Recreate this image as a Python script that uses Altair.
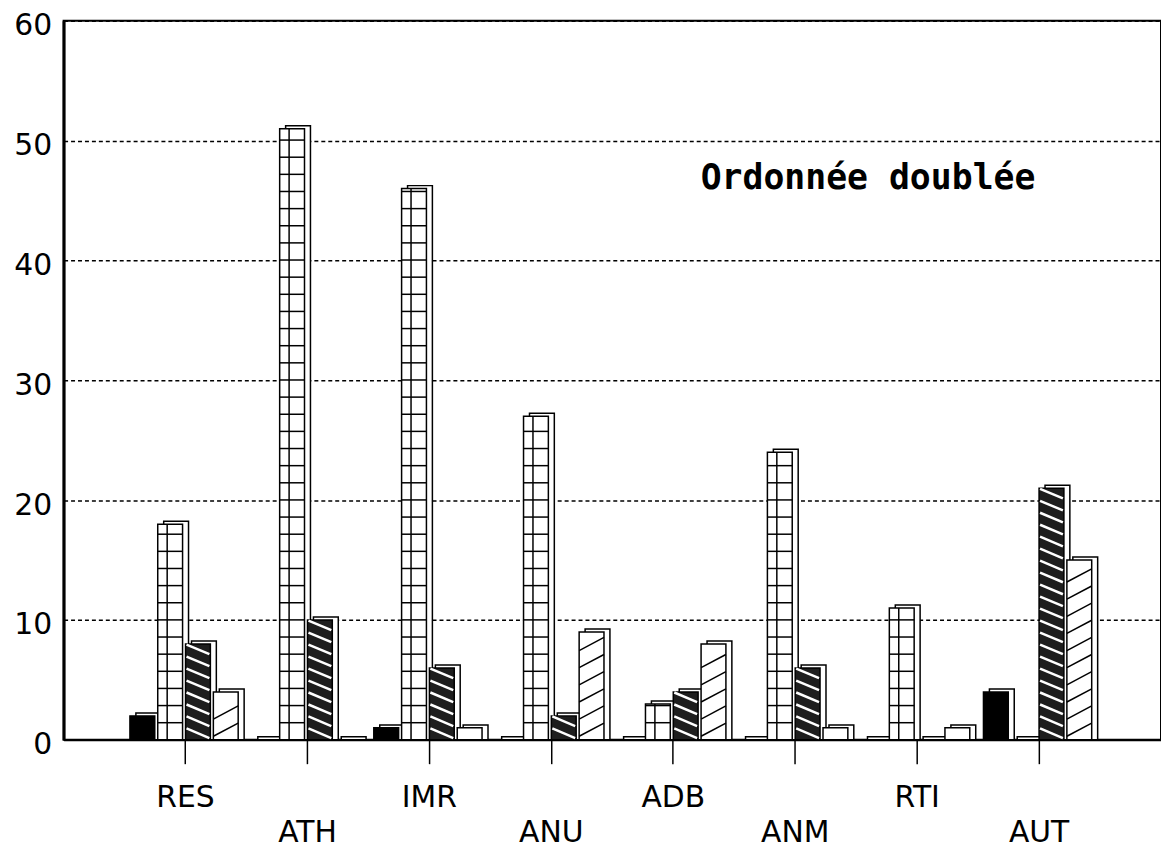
import altair as alt
import pandas as pd

# ---- data ----
categories = ["RES", "ATH", "IMR", "ANU", "ADB", "ANM", "RTI", "AUT"]
label_row = [1, 2, 1, 2, 1, 2, 1, 2]
series_names = ["noir", "quadrillé", "hachuré foncé", "hachuré clair"]
s_noir = [2, 0, 1, 0, 0, 0, 0, 4]
s_quadrille = [18, 51, 46, 27, 3, 24, 11, 0]
s_fonce = [8, 10, 6, 2, 4, 6, 0, 21]
s_clair = [4, 0, 1, 9, 8, 1, 1, 15]
y_ticks = [0, 10, 20, 30, 40, 50, 60]
annotation = "Ordonnée doublée"

series_values = [s_noir, s_quadrille, s_fonce, s_clair]
rows = []
for name, vals in zip(series_names, series_values):
    for c, v in zip(categories, vals):
        rows.append({"cat": c, "s": name, "value": v})
df = pd.DataFrame(rows)
labels_df = pd.DataFrame({"cat": categories, "row": label_row})
annot_df = pd.DataFrame({"t": [annotation]})

# ---- styling ----
FONT = "DejaVu Sans"
BAR_W = 25
DEPTH_X = 6
DEPTH_Y = -3
offsets = [-43.5, -15.5, 12.5, 40.5]
fills = ["black", "white", "#1e1e1e", "white"]

xscale = alt.Scale(domain=categories, paddingOuter=0.5, paddingInner=0)
yscale = alt.Scale(domain=[0, 60], nice=False, zero=True)
xaxis = alt.Axis(title=None, labels=False, ticks=True, tickSize=24, tickWidth=1.5,
                 tickColor="black", domainColor="black", domainWidth=2, grid=False)
yaxis = alt.Axis(title=None, values=y_ticks, ticks=False, domainColor="black",
                 domainWidth=3, grid=True, gridColor="black", gridDash=[4, 3],
                 gridWidth=1.5, labelFont=FONT, labelFontSize=30, labelColor="black",
                 labelPadding=12, labelOffset=5)


def X():
    return alt.X("cat:N", scale=xscale, axis=xaxis, sort=categories)


def Y(field):
    return alt.Y(f"{field}:Q", scale=yscale, axis=yaxis, stack=None)


base = alt.Chart(df)
layers = []
for i, name in enumerate(series_names):
    off = offsets[i]
    sub = base.transform_filter(alt.datum.s == name)
    # 3D back face (gives side and top)
    layers.append(
        sub.mark_bar(width=BAR_W, xOffset=off + DEPTH_X, yOffset=DEPTH_Y, fill="white",
                     stroke="black", strokeWidth=1.5)
        .encode(x=X(), y=Y("value"))
    )
    # front face
    layers.append(
        sub.mark_bar(width=BAR_W, xOffset=off, fill=fills[i], stroke="black",
                     strokeWidth=1.5)
        .encode(x=X(), y=Y("value"))
    )
    if i == 1:
        # square grid pattern
        layers.append(
            sub.transform_calculate(ks="sequence(1.43, datum.value, 1.43)")
            .transform_flatten(["ks"])
            .mark_tick(orient="horizontal", size=BAR_W, thickness=1.5, xOffset=off,
                       color="black", opacity=1)
            .encode(x=X(), y=Y("ks"))
        )
        layers.append(
            sub.transform_filter(alt.datum.value > 0)
            .mark_rule(xOffset=off - 3, strokeWidth=1.5, color="black")
            .encode(x=X(), y=Y("value"), y2=alt.datum(0))
        )
    if i == 2:
        # white "\" stripes on dark fill
        layers.append(
            sub.transform_calculate(ks="sequence(0.15, datum.value - 0.8 + 0.001, 1.0)")
            .transform_flatten(["ks"])
            .transform_calculate(k2="datum.ks + 0.8")
            .mark_rule(xOffset=off - BAR_W / 2 + 1, x2Offset=off + BAR_W / 2 - 1,
                       strokeWidth=2.5, color="white")
            .encode(x=X(), x2=alt.X2("cat:N"), y=Y("k2"), y2=alt.Y2("ks"))
        )
    if i == 3:
        # black "/" hatching on white
        layers.append(
            sub.transform_calculate(ks="sequence(0.3, datum.value - 1.1 + 0.001, 1.43)")
            .transform_flatten(["ks"])
            .transform_calculate(k2="datum.ks + 1.1")
            .mark_rule(xOffset=off - BAR_W / 2, x2Offset=off + BAR_W / 2,
                       strokeWidth=1.5, color="black")
            .encode(x=X(), x2=alt.X2("cat:N"), y=Y("ks"), y2=alt.Y2("k2"))
        )

# category labels in two staggered rows
lab = alt.Chart(labels_df)
layers.append(
    lab.transform_filter(alt.datum.row == 1)
    .mark_text(font=FONT, fontSize=30, color="black", baseline="middle", align="center")
    .encode(x=X(), y=alt.value(783), text="cat:N")
)
layers.append(
    lab.transform_filter(alt.datum.row == 2)
    .mark_text(font=FONT, fontSize=30, color="black", baseline="middle", align="center")
    .encode(x=X(), y=alt.value(818), text="cat:N")
)
# annotation
layers.append(
    alt.Chart(annot_df)
    .mark_text(font="DejaVu Sans Mono", fontWeight="bold", fontSize=35, color="black",
               align="center", baseline="alphabetic")
    .encode(x=alt.value(810), y=alt.value(169), text="t:N")
)

chart = (
    alt.layer(*layers)
    .properties(width=1105, height=724,
                autosize=alt.AutoSizeParams(type="none"),
                padding={"left": 56, "top": 10, "right": 0, "bottom": 108},
                background="white")
    .configure_view(stroke="black", strokeWidth=2)
)

chart.save("out.html", embed_options={"renderer": "svg", "actions": False})
